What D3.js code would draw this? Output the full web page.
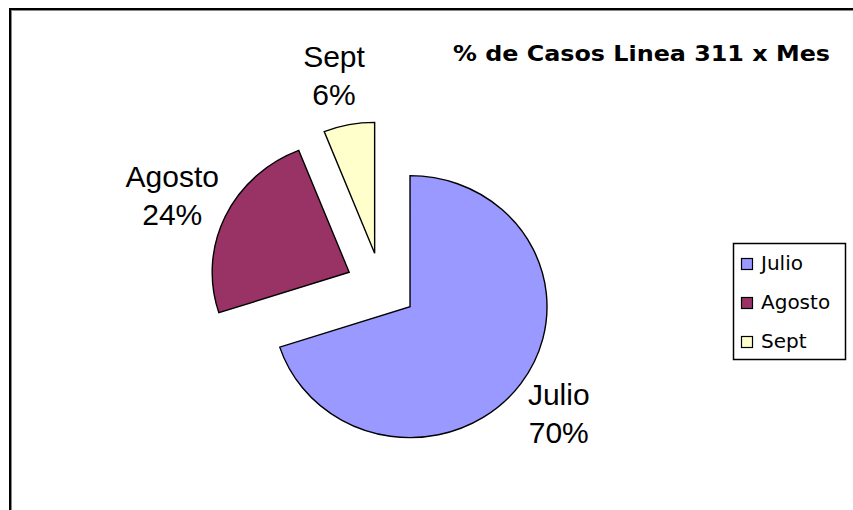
<!DOCTYPE html>
<html>
<head>
<meta charset="utf-8">
<script src="https://cdn.jsdelivr.net/npm/d3@7"></script>
<style>
  html, body { margin: 0; padding: 0; background: #ffffff; }
  svg { display: block; }
</style>
</head>
<body>
<svg id="chart" width="853" height="510"></svg>
<script>
// ---- data ----
const categories = ["Julio", "Agosto", "Sept"];
const values = [70, 24, 6];
const colors = ["#9999FF", "#993366", "#FFFFCC"];
const title = "% de Casos Linea 311 x Mes";

// ---- layout ----
const W = 853, H = 510;
const cx = 381.3, cy = 286.7;
const R = 137, sy = 131 / 137;
const explode = 35.5;
const labelR = 190;

const svg = d3.select("#chart");
svg.append("rect").attr("width", W).attr("height", H).attr("fill", "#fff");

// chart area border (only top/left visible)
svg.append("rect").attr("x", 10).attr("y", 9).attr("width", 900).attr("height", 600)
  .attr("fill", "none").attr("stroke", "#000").attr("stroke-width", 2);
svg.append("rect").attr("x", 11.5).attr("y", 10.5).attr("width", 900).attr("height", 600)
  .attr("fill", "none").attr("stroke", "#888").attr("stroke-width", 1);

const data = categories.map((c, i) => ({ name: c, value: values[i], color: colors[i] }));
const total = d3.sum(values);
const pie = d3.pie().sort(null).value(d => d.value).startAngle(0).endAngle(2 * Math.PI);
const arcs = pie(data);
const arc = d3.arc().innerRadius(0).outerRadius(R);
const labelArc = d3.arc().innerRadius(labelR).outerRadius(labelR);

const g = svg.append("g").attr("transform", `translate(${cx},${cy}) scale(1,${sy})`);
arcs.forEach(a => {
  const mid = (a.startAngle + a.endAngle) / 2;
  const ox = explode * Math.sin(mid), oy = -explode * Math.cos(mid);
  g.append("path")
    .attr("d", arc(a))
    .attr("transform", `translate(${ox},${oy})`)
    .attr("fill", a.data.color)
    .attr("stroke", "#000")
    .attr("stroke-width", 1.4)
    .attr("stroke-linejoin", "miter")
    .attr("vector-effect", "non-scaling-stroke");

  const [lx, ly] = labelArc.centroid(a);
  const px = cx + ox + lx;
  const py = cy + (oy + ly) * sy;
  const t = svg.append("g").attr("font-family", "'Liberation Sans', Arial, sans-serif")
    .attr("font-size", 30).attr("fill", "#000").attr("text-anchor", "middle");
  t.append("text").attr("x", px - 5).attr("y", py - 8).text(a.data.name);
  t.append("text").attr("x", px - 5).attr("y", py + 30)
    .text(Math.round(a.data.value / total * 100) + "%");
});

// title
svg.append("text")
  .attr("x", 453).attr("y", 61)
  .attr("font-family", "'DejaVu Sans', Verdana, sans-serif")
  .attr("font-weight", "bold").attr("font-size", 21)
  .attr("textLength", 377).attr("lengthAdjust", "spacingAndGlyphs")
  .attr("fill", "#000")
  .text(title);

// legend
const lg = svg.append("g");
lg.append("rect").attr("x", 733.5).attr("y", 243.5).attr("width", 112).attr("height", 116)
  .attr("fill", "#fff").attr("stroke", "#000").attr("stroke-width", 1.5);
data.forEach((d, i) => {
  const y0 = 258 + i * 39;
  lg.append("rect").attr("x", 741.5).attr("y", y0 + 0.5).attr("width", 11).attr("height", 11)
    .attr("fill", d.color).attr("stroke", "#000").attr("stroke-width", 1.2);
  lg.append("text").attr("x", 761).attr("y", y0 + 12)
    .attr("font-family", "'DejaVu Sans', Verdana, sans-serif").attr("font-size", 20)
    .attr("fill", "#000").text(d.name);
});
</script>
</body>
</html>
